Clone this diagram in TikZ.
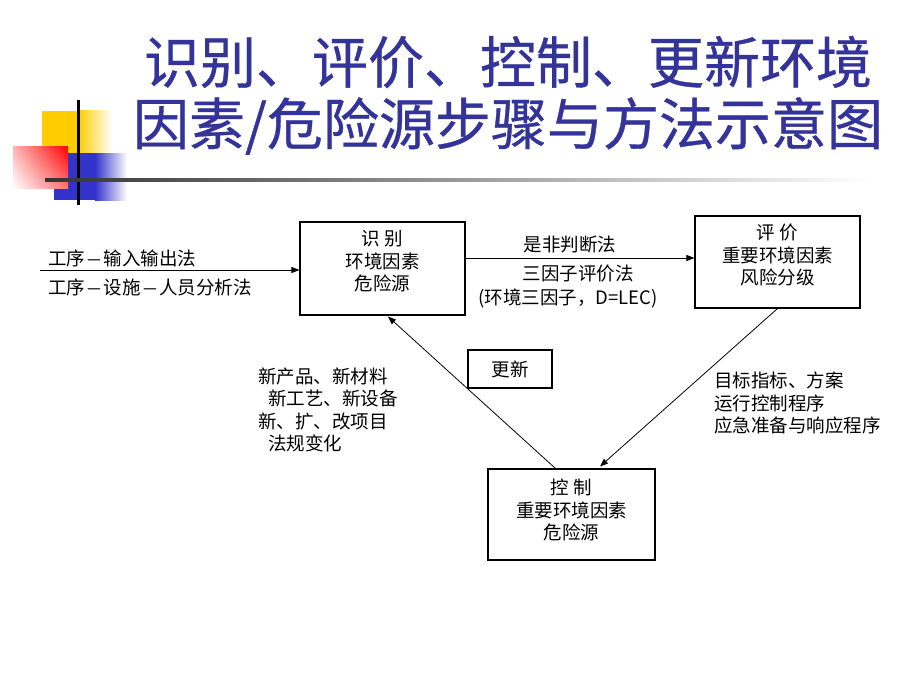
\documentclass[tikz,border=0pt]{standalone}
\usepackage{fontspec}
\usetikzlibrary{arrows.meta,shadings}
\newfontfamily\cjk{Noto Sans CJK SC}
\newfontfamily\cjktitle[FakeBold=0.6]{Noto Sans CJK SC}
\definecolor{titelblau}{RGB}{51,51,153}
\definecolor{dekogelb}{RGB}{255,204,0}
\definecolor{dekoblau}{RGB}{51,51,204}
\newcommand{\strich}{\makebox[1em]{\resizebox{0.75em}{\height}{—}}}
\tikzset{
  box/.style={draw,line width=1.1pt,inner sep=0pt},
  boxtext/.style={align=center,font=\cjk\fontsize{18.5}{22.5}\selectfont,inner sep=0pt},
  lbl/.style={font=\cjk\fontsize{18.5}{22.5}\selectfont,inner sep=0pt},
  arr/.style={line width=0.8pt,-{Triangle[length=8pt,width=6pt]}}
}
\begin{document}
\begin{tikzpicture}[x=1pt,y=-1pt]
   \useasboundingbox (0,0) rectangle (920,690);
   % Dekoration links oben
   \fill[dekogelb] (42,111) rectangle (78,153);
   \shade[left color=dekogelb,right color=white] (78,111) rectangle (112,153);
   \fill[dekoblau] (54,153) rectangle (95,200);
   \shade[left color=dekoblau,right color=white] (95,153) rectangle (127,200);
   \shade[upper left=red!30,upper right=red,lower left=white,lower right=red!55] (13,146) rectangle (68,188);
   \fill[black] (76.5,100) rectangle (79.5,205);
   \shade[left color=black!80,right color=white] (45,178.5) rectangle (870,181.5);
   % Titel
   \node[text=titelblau,font=\cjktitle\fontsize{56}{64}\selectfont,inner sep=0pt] (titel1) at (508,62) {识别、评价、控制、更新环境};
   \node[text=titelblau,font=\cjktitle\fontsize{56}{64}\selectfont,inner sep=0pt] (titel2) at (508,126) {因素/危险源步骤与方法示意图};
   % Kaesten
   \node[box,minimum width=165,minimum height=93] (shibie) at (382.5,268.5) {};
   \node[boxtext] (shibietext) at ([yshift=7]shibie.center) {识 别\\环境因素\\危险源};
   \node[box,minimum width=165,minimum height=92] (pingjia) at (777.5,262) {};
   \node[boxtext] (pingjiatext) at ([yshift=7]pingjia.center) {评 价\\重要环境因素\\风险分级};
   \node[box,minimum width=167,minimum height=91] (kongzhi) at (571.5,514.5) {};
   \node[boxtext] (kongzhitext) at ([yshift=4.5]kongzhi.center) {控 制\\重要环境因素\\危险源};
   \node[box,minimum width=84,minimum height=38] (gengxin) at (510,369) {};
   \node[boxtext] (gengxintext) at (gengxin.center) {更新};
   % Pfeile
   \coordinate (eingang) at (40,270);
   \draw[arr] (eingang) -- (eingang -| shibie.west);
   \draw[arr] ([yshift=10.5]shibie.east) -- ([yshift=10.5]shibie.east -| pingjia.west);
   \draw[arr] (pingjia.south) -- ([xshift=28.5,yshift=2]kongzhi.north);
   \draw[arr] ([xshift=-16]kongzhi.north) -- ([xshift=5.5,yshift=-1]shibie.south);
   % Beschriftungen
   \node[lbl,anchor=west] (m1) at (48,258) {工序\strich 输入输出法};
   \node[lbl,anchor=west] (m2) at (48,287) {工序\strich 设施\strich 人员分析法};
   \node[lbl] (m3) at (570,245) {是非判断法};
   \node[lbl] (m4) at (578,274) {三因子评价法};
   \node[lbl] (m5) at (568,298) {(环境三因子，D=LEC)};
   \node[lbl,anchor=west,align=left] (m6) at (714,403) {目标指标、方案\\运行控制程序\\应急准备与响应程序};
   \node[lbl,anchor=west,align=left] (m7) at (258,410) {新产品、新材料\\\hspace*{10pt}新工艺、新设备\\新、扩、改项目\\\hspace*{10pt}法规变化};
\end{tikzpicture}
\end{document}
